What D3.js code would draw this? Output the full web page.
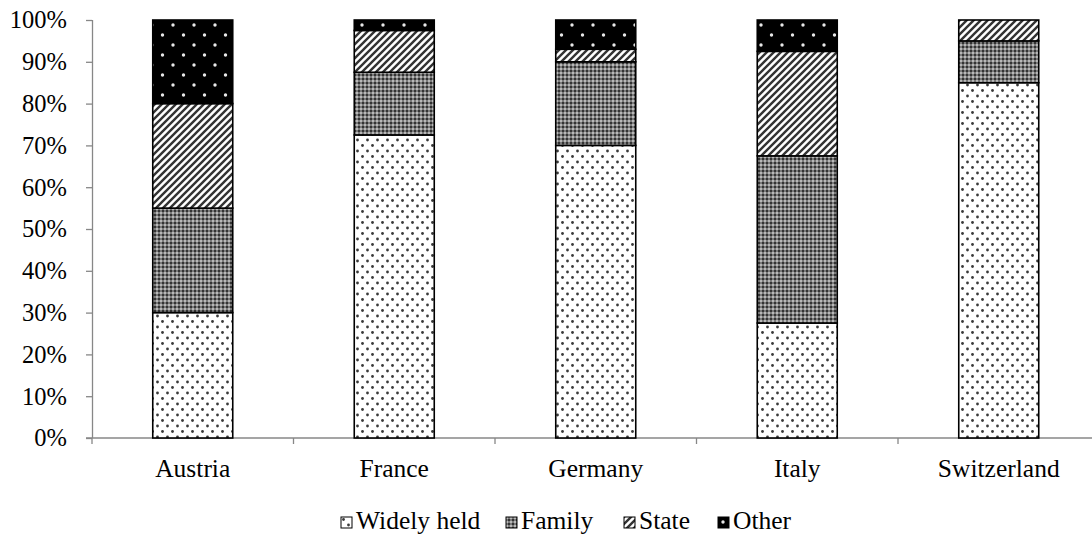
<!DOCTYPE html>
<html>
<head>
<meta charset="utf-8">
<script src="https://cdn.jsdelivr.net/npm/d3@7"></script>
<style>
  body { margin: 0; background: #fff; }
  svg text { font-family: "Liberation Serif", "Times New Roman", serif; }
</style>
</head>
<body>
<svg id="chart" width="1092" height="537"></svg>
<script>
const countries = ["Austria", "France", "Germany", "Italy", "Switzerland"]
const seriesNames = ["Widely held", "Family", "State", "Other"]
const widelyHeld = [30, 72.5, 70, 27.5, 85]
const family = [25, 15, 20, 40, 10]
const state = [25, 10, 3, 25, 5]
const other = [20, 2.5, 7, 7.5, 0]
const yTicks = [0, 10, 20, 30, 40, 50, 60, 70, 80, 90, 100]

const svg = d3.select("#chart")
const margin = {top: 20, left: 92}
const baseY = 438
const step = 201.5
const fontSize = 24.5

const rows = countries.map((c, i) => ({
    country: c,
    "Widely held": widelyHeld[i],
    "Family": family[i],
    "State": state[i],
    "Other": other[i]
}))

// fill patterns
const defs = svg.append("defs")
const pDots = defs.append("pattern").attr("id", "p0").attr("patternUnits", "userSpaceOnUse")
    .attr("width", 10).attr("height", 11)
pDots.append("rect").attr("width", 10).attr("height", 11).attr("fill", "#fff")
pDots.append("circle").attr("cx", 2.5).attr("cy", 2.5).attr("r", 1.4).attr("fill", "#3a3a3a")
pDots.append("circle").attr("cx", 7.5).attr("cy", 8).attr("r", 1.4).attr("fill", "#3a3a3a")

const pFam = defs.append("pattern").attr("id", "p1").attr("patternUnits", "userSpaceOnUse")
    .attr("width", 4).attr("height", 4)
pFam.append("rect").attr("width", 4).attr("height", 4).attr("fill", "#7a7a7a")
pFam.append("rect").attr("x", 0).attr("y", 0).attr("width", 2).attr("height", 2).attr("fill", "#b8b8b8")
pFam.append("rect").attr("x", 2).attr("y", 2).attr("width", 2).attr("height", 2).attr("fill", "#333")

const pState = defs.append("pattern").attr("id", "p2").attr("patternUnits", "userSpaceOnUse")
    .attr("width", 7).attr("height", 7)
pState.append("rect").attr("width", 7).attr("height", 7).attr("fill", "#fff")
pState.append("path").attr("d", "M-2,2 L2,-2 M0,7 L7,0 M5,9 L9,5")
    .attr("stroke", "#333").attr("stroke-width", 2.4)

const pOther = defs.append("pattern").attr("id", "p3").attr("patternUnits", "userSpaceOnUse")
    .attr("width", 21).attr("height", 20)
pOther.append("rect").attr("width", 21).attr("height", 20).attr("fill", "#000")
pOther.append("circle").attr("cx", 5).attr("cy", 5).attr("r", 1.7).attr("fill", "#e8e8e8")
pOther.append("circle").attr("cx", 15.5).attr("cy", 15).attr("r", 1.7).attr("fill", "#e8e8e8")

const fills = ["url(#p0)", "url(#p1)", "url(#p2)", "url(#p3)"]

const x = d3.scaleBand().domain(countries).range([margin.left, margin.left + step * 5]).padding(0)
const y = d3.scaleLinear().domain([0, 100]).range([baseY, margin.top])
const barW = 80

const stack = d3.stack().keys(seriesNames)(rows)

// axes
const yAxis = svg.append("g").attr("transform", "translate(" + margin.left + ",0)")
    .call(d3.axisLeft(y).tickValues(yTicks).tickSize(6).tickPadding(19).tickFormat(d => d + "%"))
yAxis.selectAll("line, path").attr("stroke", "#878787").attr("stroke-width", 1.3)
yAxis.select(".domain").attr("d", "M0.5," + y(100) + "V" + y(0))
yAxis.selectAll("text").attr("font-size", fontSize).attr("fill", "#000")
    .attr("font-family", "Liberation Serif")

const xAxis = svg.append("g").attr("transform", "translate(0," + y(0) + ")")
xAxis.append("line").attr("x1", margin.left - 6).attr("x2", 1092)
    .attr("stroke", "#878787").attr("stroke-width", 1.3)
xAxis.selectAll(".tk").data(countries.concat(["end"])).enter().append("line")
    .attr("x1", (d, i) => margin.left + i * x.step())
    .attr("x2", (d, i) => margin.left + i * x.step())
    .attr("y1", 0).attr("y2", 6)
    .attr("stroke", "#878787").attr("stroke-width", 1.3)
xAxis.selectAll(".lbl").data(countries).enter().append("text")
    .attr("x", d => x(d) + x.bandwidth() / 2)
    .attr("y", 39)
    .attr("text-anchor", "middle")
    .attr("font-size", fontSize + 1)
    .text(d => d)

// bars
svg.append("g").selectAll("g")
    .data(stack).enter().append("g")
    .attr("fill", (d, i) => fills[i])
    .selectAll("rect")
    .data(d => d.filter(e => e[1] - e[0] > 0)).enter().append("rect")
    .attr("x", d => x(d.data.country) + (x.bandwidth() - barW) / 2)
    .attr("y", d => y(d[1]))
    .attr("width", barW)
    .attr("height", d => y(d[0]) - y(d[1]))
    .attr("stroke", "#000")
    .attr("stroke-width", 1.6)

// legend
const legendX = [341, 506, 624, 718]
const legend = svg.append("g")
seriesNames.forEach((s, i) => {
    const lg = legend.append("g").attr("transform", "translate(" + legendX[i] + ",517)")
    lg.append("rect").attr("x", 0).attr("y", 0).attr("width", 11).attr("height", 11)
        .attr("fill", fills[i]).attr("stroke", "#000").attr("stroke-width", 1)
    lg.append("text").attr("x", 15).attr("y", 12).attr("font-size", fontSize + 1).text(s)
})
</script>
</body>
</html>
